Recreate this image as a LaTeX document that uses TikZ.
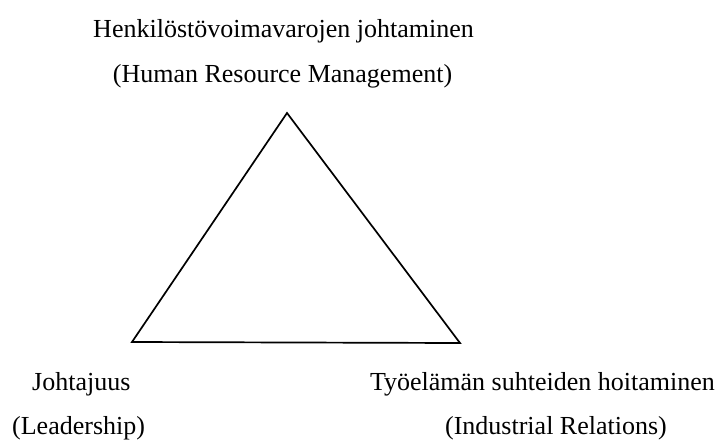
\documentclass[tikz,border=0pt]{standalone}
\usepackage{fontspec}
\setmainfont{Liberation Serif}
\begin{document}
\begin{tikzpicture}[x=1pt,y=-1pt,
  lbl/.style={inner sep=0pt,font=\fontsize{26}{30}\selectfont},
  edge/.style={draw=black,line width=1.7pt,line join=miter}]
\useasboundingbox (0,0) rectangle (719,442);
% the triangle
\coordinate (top) at (287,113);
\coordinate (bl) at (132,342);
\coordinate (br) at (460,343);
\draw[edge] (top) -- (bl) -- (br) -- cycle;
% labels at the three corners
\node[lbl,anchor=base] (hrm1) at (283.5,37) {Henkilöstövoimavarojen johtaminen};
\node[lbl,anchor=base] (hrm2) at (282.5,82) {(Human Resource Management)};
\node[lbl,anchor=base west] (lead1) at (32,390) {Johtajuus};
\node[lbl,anchor=base west] (lead2) at (12,434) {(Leadership)};
\node[lbl,anchor=base east] (ir1) at (715,390) {Työelämän suhteiden hoitaminen};
\node[lbl,anchor=base] (ir2) at (556,434) {(Industrial Relations)};
\end{tikzpicture}
\end{document}
